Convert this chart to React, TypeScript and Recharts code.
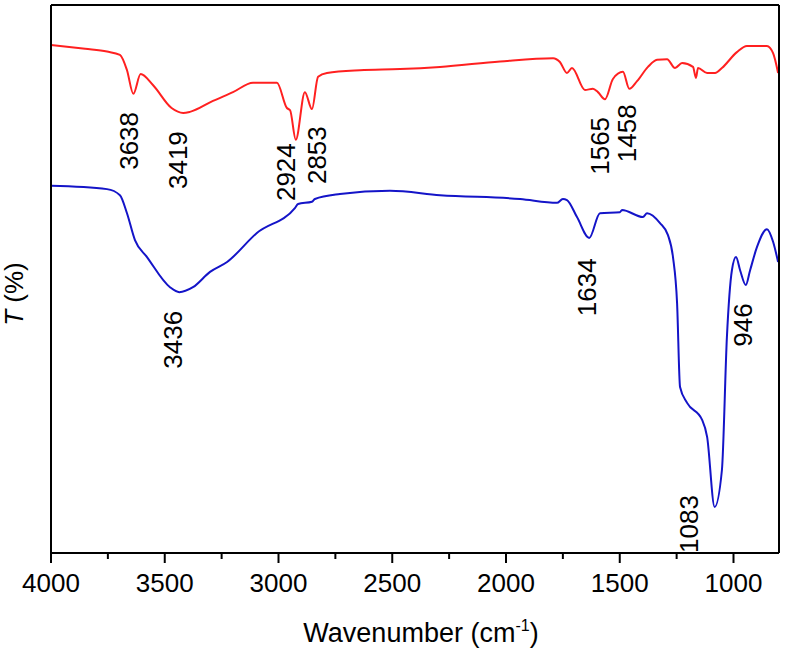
import React from 'react';
import { LineChart, Line, XAxis, YAxis, ReferenceDot, Label } from 'recharts';

const FONT = '"Liberation Sans", Arial, Helvetica, sans-serif';

// ─── Spectra (wavenumber cm-1, transmittance a.u.) ────────────────────────────

const redWave = [4000, 3850, 3754, 3697, 3666, 3638, 3606, 3552, 3470, 3419, 3389, 3288, 3200, 3112, 3007, 2963, 2949, 2924, 2884, 2853, 2826, 2787, 2642, 2466, 2290, 2026, 1793, 1763, 1732, 1710, 1653, 1618, 1596, 1565, 1530, 1486, 1458, 1424, 1376, 1336, 1292, 1257, 1226, 1178, 1165, 1156, 1116, 1081, 1051, 985, 941, 853, 826, 804];
const redT = [92.7, 92.0, 91.5, 90.9, 88.1, 83.8, 87.4, 85.4, 81.2, 80.3, 80.5, 82.5, 84.1, 85.8, 85.8, 81.2, 80.8, 75.4, 84.1, 81.0, 86.9, 87.6, 88.1, 88.3, 88.7, 89.7, 90.3, 89.6, 87.6, 88.5, 84.5, 84.7, 84.1, 82.8, 86.5, 87.8, 84.7, 86.1, 88.7, 90.0, 90.1, 88.5, 89.4, 88.7, 86.7, 88.5, 87.6, 87.6, 88.5, 91.4, 92.5, 92.5, 91.2, 87.6];

const blueWave = [4000, 3754, 3697, 3666, 3631, 3578, 3477, 3436, 3376, 3301, 3226, 3095, 2927, 2914, 2853, 2840, 2730, 2510, 2290, 1938, 1776, 1750, 1732, 1688, 1634, 1587, 1499, 1490, 1398, 1380, 1323, 1288, 1266, 1248, 1235, 1204, 1138, 1116, 1083, 1051, 1029, 1007, 989, 971, 946, 927, 897, 853, 826, 804];
const blueT = [67.0, 66.4, 65.3, 62.0, 57.1, 54.0, 48.5, 47.6, 48.5, 51.3, 53.1, 58.4, 63.0, 63.7, 64.1, 64.6, 65.5, 66.1, 65.3, 64.6, 63.9, 64.6, 64.4, 61.3, 57.5, 62.0, 62.2, 62.6, 61.3, 62.0, 60.2, 58.0, 54.0, 45.6, 30.3, 27.4, 24.3, 21.2, 8.4, 15.1, 39.4, 51.6, 54.0, 51.6, 48.9, 51.6, 55.8, 59.1, 56.8, 53.1];

// peak labels: text, anchor wavenumber, anchor T
const peakText = ['3638', '3419', '2924', '2853', '1565', '1458', '3436', '1634', '946', '1083'];
const peakWave = [3657, 3442, 2967, 2831, 1587, 1468, 3464, 1644, 958, 1196];
const peakT = [75.2, 71.7, 69.5, 72.6, 74.3, 76.6, 38.9, 48.5, 41.6, 5.3];

const xTicks = [4000, 3750, 3500, 3250, 3000, 2750, 2500, 2250, 2000, 1750, 1500, 1250, 1000];

const redData = redWave.map((w, i) => ({ w, t: redT[i] }));
const blueData = blueWave.map((w, i) => ({ w, t: blueT[i] }));

function WaveTick({ x, y, payload }: any) {
  const major = payload.value % 500 === 0;
  return (
    <g>
      <line x1={x} x2={x} y1={y} y2={y + (major ? 10 : 6)} stroke="#000" strokeWidth={2} />
      {major && (
        <text x={x} y={y + 39} textAnchor="middle" fontSize={26} fontFamily={FONT} fill="#000">
          {payload.value}
        </text>
      )}
    </g>
  );
}

function PeakLabel({ cx, cy, text }: any) {
  return (
    <text
      x={cx}
      y={cy}
      transform={`rotate(-90 ${cx} ${cy})`}
      textAnchor="middle"
      dominantBaseline="central"
      fontSize={26}
      fontFamily={FONT}
      fill="#000"
    >
      {text}
    </text>
  );
}

export default function App() {
  return (
    <div style={{ position: 'absolute', left: 0, top: 0, background: '#fff' }}>
      <LineChart width={785} height={653} margin={{ top: 4, right: 5, bottom: 0, left: 50 }}>
        <XAxis
          type="number"
          dataKey="w"
          domain={[800, 4000]}
          reversed
          ticks={xTicks}
          interval={0}
          height={100}
          tickSize={0}
          tickMargin={0}
          tickLine={false}
          tick={<WaveTick />}
          axisLine={{ stroke: '#000', strokeWidth: 2 }}
        >
          <Label
            content={({ viewBox }: any) => (
              <text
                x={viewBox.x + viewBox.width / 2 + 6}
                y={642}
                textAnchor="middle"
                fontSize={27}
                fontFamily={FONT}
                fill="#000"
              >
                Wavenumber (cm
                <tspan dy={-11} fontSize={16}>-1</tspan>
                <tspan dy={11}>)</tspan>
              </text>
            )}
          />
        </XAxis>
        <XAxis
          xAxisId="top"
          orientation="top"
          type="number"
          domain={[800, 4000]}
          reversed
          height={1}
          tick={false}
          tickLine={false}
          axisLine={{ stroke: '#000', strokeWidth: 2 }}
        />
        <YAxis
          type="number"
          domain={[0, 100]}
          width={1}
          tick={false}
          tickLine={false}
          axisLine={{ stroke: '#000', strokeWidth: 2 }}
          label={{
            value: 'T (%)',
            content: ({ viewBox }: any) => {
              const lx = 14;
              const ly = viewBox.y + viewBox.height / 2 + 15;
              return (
                <text
                  x={lx}
                  y={ly}
                  transform={`rotate(-90 ${lx} ${ly})`}
                  textAnchor="middle"
                  dominantBaseline="central"
                  fontSize={26}
                  fontFamily={FONT}
                  fill="#000"
                >
                  <tspan fontStyle="italic">T</tspan> (%)
                </text>
              );
            },
          }}
        />
        <YAxis
          yAxisId="r"
          orientation="right"
          type="number"
          domain={[0, 100]}
          width={1}
          tick={false}
          tickLine={false}
          axisLine={{ stroke: '#000', strokeWidth: 2 }}
        />
        <Line
          data={redData}
          dataKey="t"
          type="monotone"
          stroke="#ff2020"
          strokeWidth={2}
          dot={false}
          isAnimationActive={false}
        />
        <Line
          data={blueData}
          dataKey="t"
          type="monotone"
          stroke="#1414c8"
          strokeWidth={2}
          dot={false}
          isAnimationActive={false}
        />
        {peakText.map((txt, i) => (
          <ReferenceDot
            key={txt}
            x={peakWave[i]}
            y={peakT[i]}
            r={0}
            shape={(p: any) => <PeakLabel cx={p.cx} cy={p.cy} text={txt} />}
          />
        ))}
      </LineChart>
    </div>
  );
}
